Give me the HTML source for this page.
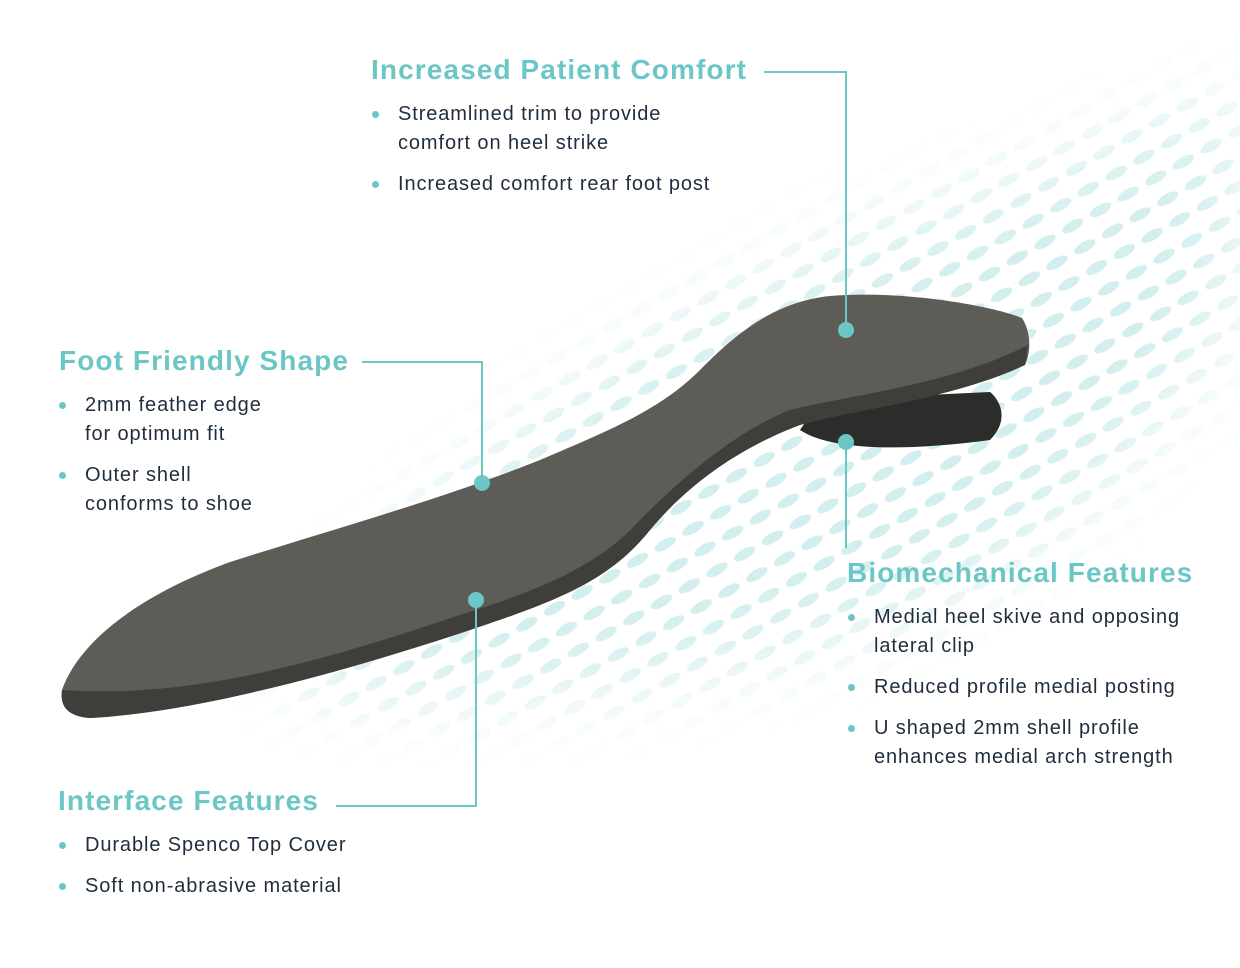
<!DOCTYPE html>
<html><head><meta charset="utf-8"><style>
body{margin:0;width:1240px;height:968px;background:#fff;position:relative;overflow:hidden;font-family:"Liberation Sans",sans-serif}
svg{position:absolute;left:0;top:0}
.h{position:absolute;color:#6cc6c6;font-weight:bold;font-size:28px;letter-spacing:1.1px;white-space:nowrap}
.t{position:absolute;color:#1f2d3d;font-size:20px;line-height:29px;letter-spacing:0.9px;white-space:nowrap}
.t:before{content:"";position:absolute;left:-26px;top:11px;width:7px;height:7px;border-radius:50%;background:#6cc6c6}
</style></head><body>
<svg width="1240" height="968" viewBox="0 0 1240 968">
<defs>
<pattern id="dp" width="32" height="24" patternUnits="userSpaceOnUse" patternTransform="rotate(-30)">
<ellipse cx="16" cy="12" rx="12" ry="5" fill="#d3eeee"/>
</pattern>
<filter id="bl" x="-50%" y="-50%" width="200%" height="200%"><feGaussianBlur stdDeviation="40"/></filter>
<mask id="m"><path d="M260 680 C400 520 620 330 850 240 C1000 190 1150 130 1240 90 L1240 300 C1150 450 1050 560 900 620 C700 690 470 720 260 680Z" fill="#fff" filter="url(#bl)"/></mask>
</defs>
<rect width="1240" height="968" fill="url(#dp)" mask="url(#m)"/>
<!-- insole -->
<path d="M800 430 C830 450 900 452 990 440 C1010 420 1000 400 990 392 L820 400 Z" fill="#2c2c2a"/>
<path d="M62 690 C60 705 66 716 90 718 C200 712 350 670 470 630 C560 600 610 580 650 530 C700 470 760 440 800 425 C850 410 950 400 1025 365 C1032 350 1030 330 1022 318 C990 305 900 290 830 296 C770 302 730 340 700 370 C660 410 610 430 540 460 C440 500 330 530 230 562 C140 595 80 640 62 690Z" fill="#5d5c57"/>
<path d="M62 690 C60 705 66 716 90 718 C200 712 350 670 470 630 C560 600 610 580 650 530 C700 470 760 440 800 425 C850 410 950 400 1025 365 L1028 345 C950 385 850 395 790 410 C740 430 690 470 640 520 C600 565 540 590 460 615 C340 655 200 700 62 690Z" fill="#3f3e3b"/>
<!-- connectors -->
<g stroke="#6cc6c6" stroke-width="2" fill="none">
<path d="M764 72 H846 V330"/>
<path d="M846 442 V548"/>
<path d="M362 362 H482 V483"/>
<path d="M476 600 V806 H336"/>
</g>
<g fill="#6cc6c6">
<circle cx="846" cy="330" r="8"/><circle cx="846" cy="442" r="8"/>
<circle cx="482" cy="483" r="8"/><circle cx="476" cy="600" r="8"/>
</g>
</svg>
<div class="h" style="left:371px;top:54px">Increased Patient Comfort</div>
<div class="t" style="left:398px;top:100px">Streamlined trim to provide<br>comfort on heel strike</div>
<div class="t" style="left:398px;top:170px">Increased comfort rear foot post</div>
<div class="h" style="left:59px;top:345px">Foot Friendly Shape</div>
<div class="t" style="left:85px;top:391px">2mm feather edge<br>for optimum fit</div>
<div class="t" style="left:85px;top:461px">Outer shell<br>conforms to shoe</div>
<div class="h" style="left:847px;top:557px">Biomechanical Features</div>
<div class="t" style="left:874px;top:603px">Medial heel skive and opposing<br>lateral clip</div>
<div class="t" style="left:874px;top:673px">Reduced profile medial posting</div>
<div class="t" style="left:874px;top:714px">U shaped 2mm shell profile<br>enhances medial arch strength</div>
<div class="h" style="left:58px;top:785px">Interface Features</div>
<div class="t" style="left:85px;top:831px">Durable Spenco Top Cover</div>
<div class="t" style="left:85px;top:872px">Soft non-abrasive material</div>
</body></html>
